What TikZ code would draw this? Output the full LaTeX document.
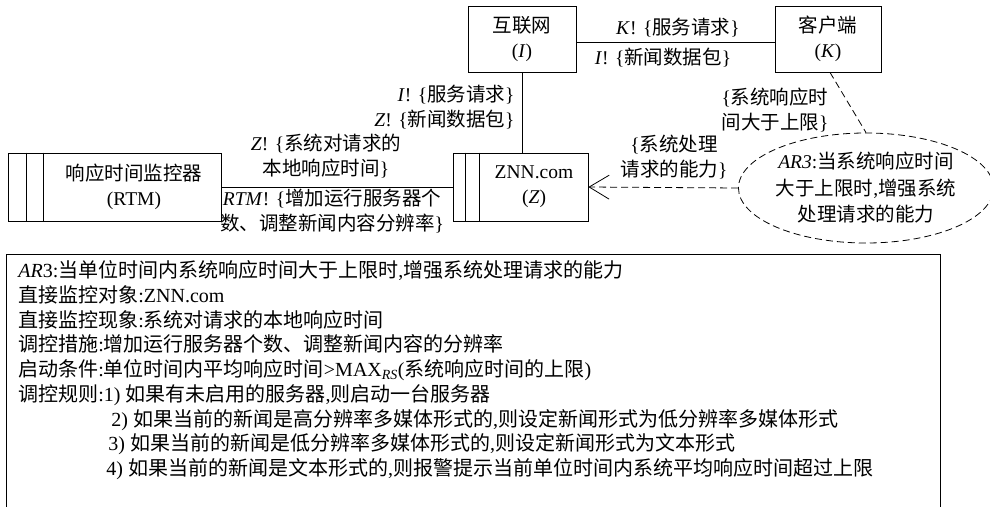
\documentclass[tikz,border=0pt]{standalone}
\usepackage{fontspec}
\setmainfont{Liberation Serif}
\newfontfamily\cjkfont{Noto Sans CJK SC}
\usetikzlibrary{arrows.meta,shapes.geometric}
\XeTeXinterchartokenstate=1
\newXeTeXintercharclass\cjkcls
\newcount\mycnt
\mycnt="4E00
\loop
  \XeTeXcharclass\mycnt=\cjkcls
  \ifnum\mycnt<"9FFF \advance\mycnt by 1 \repeat
\XeTeXcharclass"3001=\cjkcls
\XeTeXcharclass"3002=\cjkcls
\XeTeXcharclass"FF0C=\cjkcls
\XeTeXinterchartoks 0 \cjkcls = {\cjkfont}
\XeTeXinterchartoks 4095 \cjkcls = {\cjkfont}
\XeTeXinterchartoks \cjkcls 0 = {\rmfamily}
\XeTeXinterchartoks \cjkcls 4095 = {\rmfamily}
\XeTeXinterchartoks 4095 0 = {\rmfamily}
\tikzset{
  boxnode/.style={draw, rectangle, inner sep=0pt},
  lbl/.style={inner sep=0pt, align=center},
  linetext/.style={inner sep=0pt, anchor=base west, font=\fontsize{20}{25}\selectfont},
  dashline/.style={dash pattern=on 7pt off 4pt},
}
\begin{document}
\begin{tikzpicture}[x=1pt,y=-1pt,font=\fontsize{19.5}{25}\selectfont,line width=0.8pt]
\useasboundingbox (0,0) rectangle (990,506);
% boxes
\node[boxnode, minimum width=108pt, minimum height=66pt, align=center] (inet) at (522,39) {互联网\\(\textit{I})};
\node[boxnode, minimum width=106pt, minimum height=66pt, align=center] (client) at (828,39) {客户端\\(\textit{K})};
\node[boxnode, minimum width=135pt, minimum height=68pt] (znn) at (520.5,187) {};
\node[boxnode, minimum width=213pt, minimum height=68pt] (rtm) at (114.5,187) {};
\draw ([xshift=13pt]znn.north west) -- ([xshift=13pt]znn.south west);
\draw ([xshift=27pt]znn.north west) -- ([xshift=27pt]znn.south west);
\draw ([xshift=19pt]rtm.north west) -- ([xshift=19pt]rtm.south west);
\draw ([xshift=36pt]rtm.north west) -- ([xshift=36pt]rtm.south west);
\node[lbl] (znntext) at (534,187) {ZNN.com\\(\textit{Z})};
\node[lbl] (rtmtext) at (134,187) {响应时间监控器\\(RTM)};
% ellipse
\node[draw, ellipse, dashline, minimum width=238pt, minimum height=110pt, inner sep=0pt, align=center,
  font=\fontsize{19.5}{26.5}\selectfont] (ar) at (866,188)
  {\textit{AR3}:当系统响应时间\\大于上限时,增强系统\\处理请求的能力};
% connectors
\draw ([yshift=-3pt]inet.east) -- ([yshift=-3pt]client.west);
\draw (inet.south) -- (inet.south |- znn.north);
\draw (rtm.east) -- (znn.west);
\draw[dashline] ([xshift=2pt]client.south) -- (ar.north);
\draw[dashline, -{Straight Barb[length=20pt,width=24pt]}] (ar.west) -- (znn.east);
% labels
\node[lbl] (lk) at (678,28) {\textit{K}! \{服务请求\}};
\node[lbl] (li) at (663,58) {\textit{I}! \{新闻数据包\}};
\node[lbl, anchor=east] (li2) at (515,95) {\textit{I}! \{服务请求\}};
\node[lbl, anchor=east] (lz2) at (515,120) {\textit{Z}! \{新闻数据包\}};
\node[lbl] (lz) at (326,156) {\textit{Z}! \{系统对请求的\\本地响应时间\}};
\node[lbl] (lrtm) at (332,211) {\textit{RTM}! \{增加运行服务器个\\数、调整新闻内容分辨率\}};
\node[lbl] (lsys) at (775,110) {\{系统响应时\\间大于上限\}};
\node[lbl] (lcap) at (674,157) {\{系统处理\\请求的能力\}};
% bottom box
\draw (6,507) -- (6,254) -- (940,254) -- (940,507);
\node[linetext] (t1) at (18,277) {\textit{AR}3:当单位时间内系统响应时间大于上限时,增强系统处理请求的能力};
\node[linetext] (t2) at (18,302) {直接监控对象:ZNN.com};
\node[linetext] (t3) at (18,327) {直接监控现象:系统对请求的本地响应时间};
\node[linetext] (t4) at (18,351) {调控措施:增加运行服务器个数、调整新闻内容的分辨率};
\node[linetext] (t5) at (18,376) {启动条件:单位时间内平均响应时间>MAX\textsubscript{\textit{RS}}(系统响应时间的上限)};
\node[linetext] (t6) at (18,401) {调控规则:1) 如果有未启用的服务器,则启动一台服务器};
\node[linetext] (t7) at (111,426) {2) 如果当前的新闻是高分辨率多媒体形式的,则设定新闻形式为低分辨率多媒体形式};
\node[linetext] (t8) at (108,450) {3) 如果当前的新闻是低分辨率多媒体形式的,则设定新闻形式为文本形式};
\node[linetext] (t9) at (106,475) {4) 如果当前的新闻是文本形式的,则报警提示当前单位时间内系统平均响应时间超过上限};
\end{tikzpicture}
\end{document}
